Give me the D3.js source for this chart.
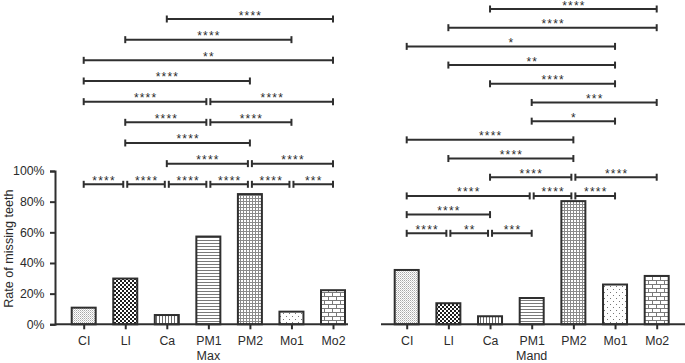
<!DOCTYPE html>
<html><head><meta charset="utf-8">
<script src="https://cdn.jsdelivr.net/npm/d3@7"></script>
<style>
body{margin:0;background:#fff;}
svg text{font-family:"Liberation Sans",Arial,Helvetica,sans-serif;fill:#2b2b2b;}
</style></head><body>
<svg id="chart" width="685" height="363"></svg>
<script>
const categories = ["CI","LI","Ca","PM1","PM2","Mo1","Mo2"];
const maxValues  = [0.115,0.305,0.067,0.579,0.856,0.089,0.229];
const mandValues = [0.361,0.144,0.059,0.178,0.810,0.266,0.322];
const yTicks = [0,0.2,0.4,0.6,0.8,1.0];
const patternNames = ["stipple","checker","vlines","hlines","grid","dots","brick"];
const panelTitles = ["Max","Mand"];
const yTitle = "Rate of missing teeth";
// [from, to, label, level]
const maxBrackets = [
  ["CI","LI","****",0],["LI","Ca","****",0],["Ca","PM1","****",0],["PM1","PM2","****",0],["PM2","Mo1","****",0],["Mo1","Mo2","***",0],
  ["Ca","PM2","****",1],["PM2","Mo2","****",1],
  ["LI","PM2","****",2],
  ["LI","PM1","****",3],["PM1","Mo1","****",3],
  ["CI","PM1","****",4],["PM1","Mo2","****",4],
  ["CI","PM2","****",5],
  ["CI","Mo2","**",6],
  ["LI","Mo1","****",7],
  ["Ca","Mo2","****",8]
];
const mandBrackets = [
  ["CI","LI","****",0],["LI","Ca","**",0],["Ca","PM1","***",0],
  ["CI","Ca","****",1],
  ["CI","PM1","****",2],["PM1","PM2","****",2],["PM2","Mo1","****",2],
  ["Ca","PM2","****",3],["PM2","Mo2","****",3],
  ["LI","PM2","****",4],
  ["CI","PM2","****",5],
  ["PM1","Mo1","*",6],
  ["PM1","Mo2","***",7],
  ["Ca","Mo1","****",8],
  ["LI","Mo1","**",9],
  ["CI","Mo1","*",10],
  ["LI","Mo2","****",11],
  ["Ca","Mo2","****",12]
];

const INK = "#2f2f2f";
const PAT = "#7a7a7a";
const svg = d3.select("#chart");
const defs = svg.append("defs");

function pat(id, w, h) {
  const p = defs.append("pattern").attr("id", id).attr("patternUnits", "userSpaceOnUse")
    .attr("width", w).attr("height", h);
  p.append("rect").attr("width", w).attr("height", h).attr("fill", "#fff");
  return p;
}
let p;
p = pat("stipple", 2, 2);
p.append("rect").attr("x",0).attr("y",0).attr("width",1).attr("height",1).attr("fill","#a8a8a8");
p.append("rect").attr("x",1).attr("y",1).attr("width",1).attr("height",1).attr("fill","#cfcfcf");
p = pat("checker", 4, 4);
p.append("rect").attr("x",0).attr("y",0).attr("width",2).attr("height",2).attr("fill","#1e1e1e");
p.append("rect").attr("x",2).attr("y",2).attr("width",2).attr("height",2).attr("fill","#1e1e1e");
p = pat("vlines", 3, 3);
p.append("rect").attr("x",0).attr("y",0).attr("width",1).attr("height",3).attr("fill","#6a6a6a");
p = pat("hlines", 3, 3);
p.append("rect").attr("x",0).attr("y",0).attr("width",3).attr("height",1).attr("fill","#7a7a7a");
p = pat("grid", 3, 3);
p.append("rect").attr("x",0).attr("y",0).attr("width",1).attr("height",3).attr("fill","#8a8a8a");
p.append("rect").attr("x",0).attr("y",0).attr("width",3).attr("height",1).attr("fill","#8a8a8a");
p = pat("dots", 6, 6);
p.append("rect").attr("x",1).attr("y",1).attr("width",1).attr("height",1).attr("fill","#777");
p.append("rect").attr("x",4).attr("y",4).attr("width",1).attr("height",1).attr("fill","#777");
p = pat("brick", 8, 8);
p.append("rect").attr("x",0).attr("y",0).attr("width",8).attr("height",1).attr("fill",PAT);
p.append("rect").attr("x",0).attr("y",4).attr("width",8).attr("height",1).attr("fill",PAT);
p.append("rect").attr("x",0).attr("y",0).attr("width",1).attr("height",4).attr("fill",PAT);
p.append("rect").attr("x",4).attr("y",4).attr("width",1).attr("height",4).attr("fill",PAT);

const y = d3.scaleLinear().domain([0, 1]).range([324.3, 171]);

const panels = [
  {values: maxValues, brackets: maxBrackets, title: panelTitles[0],
   x: d3.scalePoint().domain(categories).range([83.7, 333]),
   axisFrom: 55, axisTo: 348,
   levelY: d3.scaleLinear().domain([0, 8]).range([184.3, 19])},
  {values: mandValues, brackets: mandBrackets, title: panelTitles[1],
   x: d3.scalePoint().domain(categories).range([406.7, 656.7]),
   axisFrom: 381, axisTo: 685,
   levelY: d3.scaleLinear().domain([0, 12]).range([233.3, 9])}
];

const barW = 24;
const FONT = '"Liberation Sans",Arial,sans-serif';

// y axis (left panel only)
const yAxis = svg.append("g").attr("transform", "translate(55,0)")
  .call(d3.axisLeft(y).tickValues(yTicks).tickFormat(d3.format(".0%")).tickSize(5).tickPadding(5.5));
yAxis.attr("font-size", 12.3).attr("font-family", FONT);
yAxis.select(".domain").attr("stroke", INK).attr("stroke-width", 2);
yAxis.selectAll(".tick line").attr("stroke", INK).attr("stroke-width", 2);
yAxis.selectAll(".tick text").attr("fill", INK);

svg.append("text").attr("transform", `translate(12.5,${(y(0) + y(1)) / 2 + 1}) rotate(-90)`)
  .attr("text-anchor", "middle").attr("font-size", 12.6).text(yTitle);

panels.forEach(pn => {
  const g = svg.append("g");
  // bars
  g.selectAll("rect.bar").data(pn.values).join("rect").attr("class", "bar")
    .attr("x", (d, i) => pn.x(categories[i]) - barW / 2)
    .attr("width", barW)
    .attr("y", d => y(d) + 1)
    .attr("height", d => y(0) - y(d) - 1)
    .attr("fill", (d, i) => `url(#${patternNames[i]})`)
    .attr("stroke", INK).attr("stroke-width", 2);

  // x axis
  const xa = g.append("g").attr("transform", `translate(0,${y(0)})`)
    .call(d3.axisBottom(pn.x).tickSize(5).tickPadding(7));
  xa.attr("font-size", 12.3).attr("font-family", FONT);
  xa.select(".domain").remove();
  xa.append("line").attr("x1", pn.axisFrom).attr("x2", pn.axisTo)
    .attr("stroke", INK).attr("stroke-width", 2);
  xa.selectAll(".tick line").attr("stroke", INK).attr("stroke-width", 2);
  xa.selectAll(".tick text").attr("fill", INK);

  const xr = pn.x.range();
  g.append("text").attr("x", (xr[0] + xr[1]) / 2).attr("y", 359.6)
    .attr("text-anchor", "middle").attr("font-size", 12.5).text(pn.title);

  // significance brackets
  const items = pn.brackets.map(([a, b, label, lev]) => {
    let x1 = pn.x(a), x2 = pn.x(b);
    if (pn.brackets.some(o => o[3] === lev && o[1] === a)) x1 += 2;
    if (pn.brackets.some(o => o[3] === lev && o[0] === b)) x2 -= 2;
    return {x1, x2, y: pn.levelY(lev), label};
  });
  const bg = g.append("g").attr("stroke", INK).attr("stroke-width", 2);
  items.forEach(it => {
    bg.append("line").attr("x1", it.x1).attr("x2", it.x2).attr("y1", it.y).attr("y2", it.y);
    bg.append("line").attr("x1", it.x1).attr("x2", it.x1).attr("y1", it.y - 3.5).attr("y2", it.y + 3.5);
    bg.append("line").attr("x1", it.x2).attr("x2", it.x2).attr("y1", it.y - 3.5).attr("y2", it.y + 3.5);
  });
  g.selectAll("text.sig").data(items).join("text").attr("class", "sig")
    .attr("x", d => (d.x1 + d.x2) / 2 + 0.6).attr("y", d => d.y + 0.5)
    .attr("text-anchor", "middle").attr("font-size", 12).attr("letter-spacing", 1.2)
    .text(d => d.label);
});
</script>
</body></html>
